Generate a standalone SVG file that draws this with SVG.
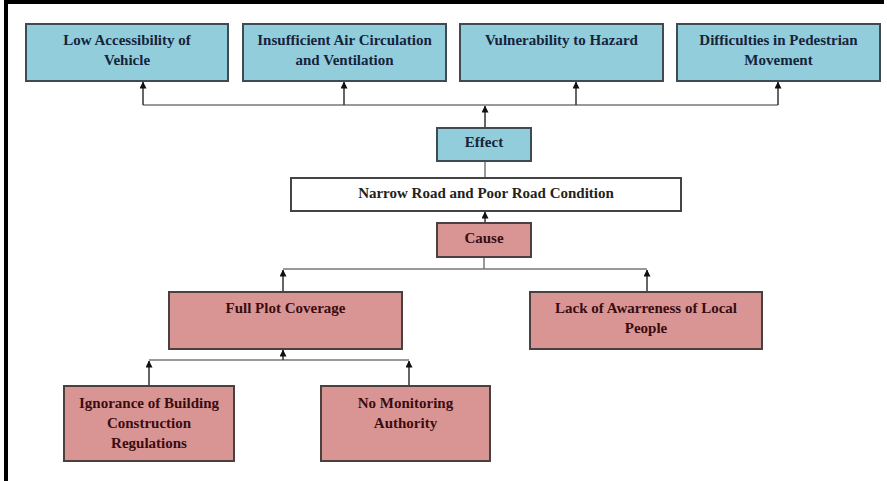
<svg xmlns="http://www.w3.org/2000/svg" width="887" height="481" viewBox="0 0 887 481">
<defs>
<marker id="ah" markerWidth="7" markerHeight="8" refX="6.5" refY="3.5" orient="auto" markerUnits="userSpaceOnUse">
<path d="M0,0 L7,3.5 L0,7 Z" fill="#111"/>
</marker>
<style>
.blue{fill:#92cddc;stroke:#3f4a52;stroke-width:2}
.pink{fill:#d99594;stroke:#4a4040;stroke-width:2}
.white{fill:#fff;stroke:#444;stroke-width:2}
text{font-family:"Liberation Serif","Times New Roman",serif;font-weight:bold;font-size:15px;text-anchor:middle}
.tb{fill:#15243a}
.tp{fill:#3a0c10}
.c{fill:none;stroke:#777;stroke-width:1.5}
.a{fill:none;stroke:#333;stroke-width:1.5;marker-end:url(#ah)}
</style>
</defs>
<rect width="887" height="481" fill="#fff"/>
<g id="frame">
<rect x="4" y="0" width="880" height="4" fill="#000"/>
<rect x="4" y="0" width="4" height="481" fill="#000"/>
</g>
<g id="connectors">
<polyline class="c" points="143,105 778,105"/>
<line class="a" x1="143" y1="105" x2="143" y2="82"/>
<line class="a" x1="344" y1="105" x2="344" y2="82"/>
<line class="a" x1="576" y1="105" x2="576" y2="82"/>
<line class="a" x1="778" y1="105" x2="778" y2="82"/>
<line class="a" x1="485" y1="128" x2="485" y2="106"/>
<line class="c" x1="485" y1="161" x2="485" y2="178"/>
<line class="a" x1="485" y1="223" x2="485" y2="212"/>
<line class="c" x1="484" y1="257" x2="484" y2="269"/>
<polyline class="c" points="283,269 647,269"/>
<line class="a" x1="283" y1="292" x2="283" y2="270"/>
<line class="a" x1="647" y1="292" x2="647" y2="270"/>
<polyline class="c" points="149,360 409,360"/>
<line class="a" x1="283" y1="360" x2="283" y2="350"/>
<line class="a" x1="149" y1="386" x2="149" y2="361"/>
<line class="a" x1="409" y1="386" x2="409" y2="361"/>
</g>
<g id="n1"><rect class="blue" x="26" y="24" width="202" height="57"/><text class="tb" x="127" y="45">Low Accessibility of</text><text class="tb" x="127" y="65">Vehicle</text></g>
<g id="n2"><rect class="blue" x="243" y="24" width="203" height="57"/><text class="tb" x="344.5" y="45">Insufficient Air Circulation</text><text class="tb" x="344.5" y="65">and Ventilation</text></g>
<g id="n3"><rect class="blue" x="460" y="24" width="203" height="57"/><text class="tb" x="561.5" y="45">Vulnerability to Hazard</text></g>
<g id="n4"><rect class="blue" x="677" y="24" width="203" height="57"/><text class="tb" x="778.5" y="45">Difficulties in Pedestrian</text><text class="tb" x="778.5" y="65">Movement</text></g>
<g id="effect"><rect class="blue" x="437" y="128" width="94" height="33"/><text class="tb" x="484" y="147">Effect</text></g>
<g id="narrow"><rect class="white" x="291" y="178" width="390" height="33"/><text fill="#222" x="486" y="198">Narrow Road and Poor Road Condition</text></g>
<g id="cause"><rect class="pink" x="437" y="223" width="94" height="34"/><text class="tp" x="484" y="243">Cause</text></g>
<g id="fullplot"><rect class="pink" x="169" y="292" width="233" height="57"/><text class="tp" x="285.5" y="313">Full Plot Coverage</text></g>
<g id="lack"><rect class="pink" x="530" y="292" width="232" height="57"/><text class="tp" x="646" y="313">Lack of Awarreness of Local</text><text class="tp" x="646" y="333">People</text></g>
<g id="ignorance"><rect class="pink" x="64" y="386" width="170" height="75"/><text class="tp" x="149" y="408">Ignorance of Building</text><text class="tp" x="149" y="428">Construction</text><text class="tp" x="149" y="448">Regulations</text></g>
<g id="monitoring"><rect class="pink" x="321" y="386" width="169" height="75"/><text class="tp" x="405.5" y="408">No Monitoring</text><text class="tp" x="405.5" y="428">Authority</text></g>
</svg>
